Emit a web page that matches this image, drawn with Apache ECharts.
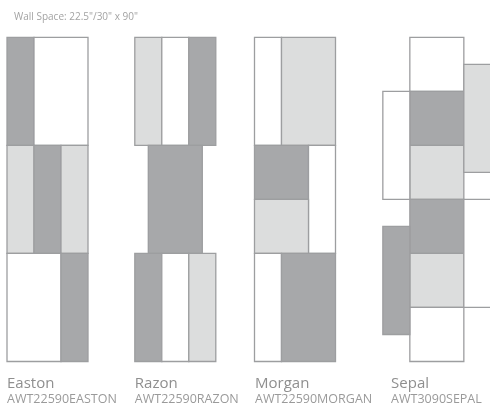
<!DOCTYPE html>
<html><head><meta charset="utf-8">
<script src="https://cdn.jsdelivr.net/npm/echarts@6/dist/echarts.min.js"></script>
<style>html,body{margin:0;padding:0;background:#fff}#c{width:490px;height:408px}</style>
</head><body><div id="c"></div>
<script>
// Tiles in inches: [x, y, width, height, shade]  shade: 0 white, 1 light, 2 dark
const eastonTiles = [[0,0,7.5,30,2],[7.5,0,15,30,0],[0,30,7.5,30,1],[7.5,30,7.5,30,2],[15,30,7.5,30,1],[0,60,15,30,0],[15,60,7.5,30,2]];
const razonTiles = [[0,0,7.5,30,1],[7.5,0,7.5,30,0],[15,0,7.5,30,2],[3.75,30,15,30,2],[0,60,7.5,30,2],[7.5,60,7.5,30,0],[15,60,7.5,30,1]];
const morganTiles = [[0,0,7.5,30,0],[7.5,0,15,30,1],[0,30,15,15,2],[15,30,7.5,30,0],[0,45,15,15,1],[0,60,7.5,30,0],[7.5,60,15,30,2]];
const sepalTiles = [[7.5,0,15,15,0],[7.5,15,15,15,2],[7.5,30,15,15,1],[7.5,45,15,15,2],[7.5,60,15,15,1],[7.5,75,15,15,0],[0,15,7.5,30,0],[0,52.5,7.5,30,2],[22.5,7.5,7.5,30,1],[22.5,45,7.5,30,0]];
const designNames = ['Easton','Razon','Morgan','Sepal'];
const designCodes = ['AWT22590EASTON','AWT22590RAZON','AWT22590MORGAN','AWT3090SEPAL'];
const designOffsets = [0, 35.5, 68.75, 104.4];
const labelOffsets = [0, 35.5, 68.9, 106.7];
const wallHeight = 90;
const titleText = 'Wall Space: 22.5"/30" x 90"';

const shadeColors = ['#ffffff','#dcdddd','#a7a8aa'];
const allTiles = [eastonTiles, razonTiles, morganTiles, sepalTiles];
const tileData = [];
allTiles.forEach((tiles, i) => tiles.forEach(t => tileData.push([designOffsets[i] + t[0], t[1], t[2], t[3], t[4]])));
const labelData = designNames.map((n, i) => [labelOffsets[i], wallHeight, i]);

const chart = echarts.init(document.getElementById('c'), null, {renderer: 'canvas'});
chart.setOption({
  animation: false,
  title: {text: titleText, left: 9, top: 7, textStyle: {fontFamily: 'Open Sans', fontSize: 10, fontWeight: 'normal', color: '#a3a3a3'}},
  grid: {left: 7, right: 0, top: 37.3, height: 324.2, containLabel: false},
  xAxis: {type: 'value', min: 0, max: 483 / 3.6, show: false},
  yAxis: {type: 'value', min: 0, max: wallHeight, inverse: true, show: false},
  series: [{
    type: 'custom',
    clip: false,
    data: tileData,
    renderItem: (params, api) => {
      const p0 = api.coord([api.value(0), api.value(1)]);
      const p1 = api.coord([api.value(0) + api.value(2), api.value(1) + api.value(3)]);
      return {
        type: 'rect',
        shape: {x: Math.min(p0[0], p1[0]), y: Math.min(p0[1], p1[1]), width: Math.abs(p1[0] - p0[0]), height: Math.abs(p1[1] - p0[1])},
        style: {fill: shadeColors[api.value(4)], stroke: '#9d9ea0', lineWidth: 1.3}
      };
    }
  }, {
    type: 'custom',
    clip: false,
    data: labelData,
    renderItem: (params, api) => {
      const p = api.coord([api.value(0), api.value(1)]);
      const i = api.value(2);
      return {
        type: 'group',
        children: [
          {type: 'text', style: {x: p[0], y: p[1] + 22.5, text: designNames[i], fill: '#8f8f8f', fontFamily: 'Open Sans', fontSize: 15, textVerticalAlign: 'middle'}},
          {type: 'text', style: {x: p[0], y: p[1] + 38, text: designCodes[i], fill: '#9a9a9a', fontFamily: 'Open Sans', fontSize: 12.5, textVerticalAlign: 'middle'}}
        ]
      };
    }
  }]
});
</script></body></html>
